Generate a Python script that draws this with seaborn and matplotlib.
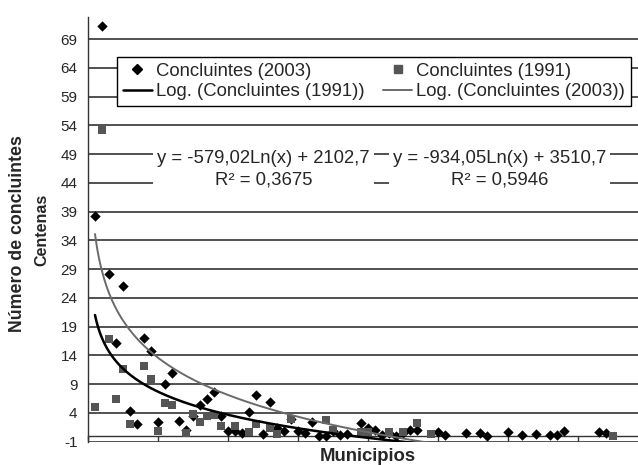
import numpy as np
import pandas as pd
import matplotlib
matplotlib.use("Agg")
import matplotlib.pyplot as plt
import seaborn as sns
from matplotlib.lines import Line2D

nan = np.nan
# municipality index (x) and graduates in hundreds (y)
municipios = list(range(1, 76))
concl_2003 = [38.3, 71.3, 28.2, 16.2, 26.1, 4.3, 2.0, 17.0, 14.8, 2.4,
              9.0, 11.0, 2.6, 1.1, 3.5, 5.4, 6.5, 7.6, 3.4, 0.9,
              0.8, 0.5, 4.1, 7.2, 0.3, 5.9, 1.3, 0.9, 2.9, 0.8,
              0.5, 2.5, 0.0, 0.0, 0.9, 0.2, 0.3, nan, 2.2, 1.3,
              1.0, 0.2, 0.5, 0.05, 0.5, 1.0, 1.0, nan, nan, 0.75,
              0.1, nan, nan, 0.5, nan, 0.5, 0.0, nan, nan, 0.7,
              nan, 0.2, nan, 0.4, nan, 0.2, 0.2, 0.85, nan, nan,
              nan, nan, 0.7, 0.5, nan]
concl_1991 = [5.1, 53.2, 16.8, 6.5, 11.7, 2.1, nan, 12.1, 9.9, 0.8,
              5.8, 5.4, nan, 0.5, 3.8, 2.4, 3.5, 3.6, 1.8, nan,
              1.8, nan, 0.6, 2.1, nan, 1.3, 0.3, nan, 3.0, nan,
              nan, nan, nan, 2.7, 1.0, nan, nan, nan, 0.6, 0.6,
              nan, nan, 0.6, nan, 0.6, nan, 2.2, nan, 0.4, nan,
              nan, nan, nan, nan, nan, nan, nan, nan, nan, nan,
              nan, nan, nan, nan, nan, nan, nan, nan, nan, nan,
              nan, nan, nan, nan, 0.05]
# logarithmic trendlines (units, not hundreds): y = a*ln(x) + b
trend_1991 = [-579.02, 2102.7]
trend_2003 = [-934.05, 3510.7]
r2_1991 = "0,3675"
r2_2003 = "0,5946"
y_ticks = list(range(-1, 70, 5))
x_ticks = list(range(0, 81, 10))

sns.set_theme(style="white")
plt.rcParams["font.family"] = ["Liberation Sans", "DejaVu Sans"]

W, H = 638, 465
fig = plt.figure(figsize=(W / 100, H / 100), dpi=100)
ax_l, ax_r, ax_b, ax_t = 88, 648, 441.7, 16.7
ax = fig.add_axes([ax_l / W, 1 - ax_b / H, (ax_r - ax_l) / W, (ax_b - ax_t) / H])

df = pd.DataFrame({"x": municipios, "c2003": concl_2003, "c1991": concl_1991})

gray_sq = "#555555"
gray_ln = "#6a6a6a"

sns.scatterplot(data=df, x="x", y="c2003", marker="D", s=28, color="black",
                edgecolor="black", linewidth=0, ax=ax, zorder=3)
sns.scatterplot(data=df, x="x", y="c1991", marker="s", s=32, color=gray_sq,
                edgecolor=gray_sq, linewidth=0, ax=ax, zorder=4)

xs = np.linspace(1, max(municipios), 400)
tr = pd.DataFrame({"x": xs,
                   "t1991": (trend_1991[0] * np.log(xs) + trend_1991[1]) / 100,
                   "t2003": (trend_2003[0] * np.log(xs) + trend_2003[1]) / 100})
sns.lineplot(data=tr, x="x", y="t1991", color="black", lw=1.8, ax=ax, zorder=5)
sns.lineplot(data=tr, x="x", y="t2003", color=gray_ln, lw=1.4, ax=ax, zorder=5)

ax.set_xlim(0, 80)
ax.set_ylim(-1, 72.9)
ax.set_yticks(y_ticks)
ax.set_yticklabels([str(v) for v in y_ticks], fontsize=11)
ax.set_xticks(x_ticks)
ax.set_xticklabels([])
ax.set_xlabel("")
ax.set_ylabel("")
ax.yaxis.grid(True, color="#222222", lw=1.1)
ax.xaxis.grid(False)
for s in ["top", "right"]:
    ax.spines[s].set_visible(False)
ax.spines["left"].set_color("#333333")
ax.spines["left"].set_linewidth(1.0)
ax.spines["bottom"].set_position(("data", 0))
ax.spines["bottom"].set_color("#333333")
ax.spines["bottom"].set_linewidth(1.0)
ax.tick_params(axis="y", direction="out", length=4.5, width=1, color="#333333", pad=3)
ax.tick_params(axis="x", direction="out", length=3.6, width=1, color="#333333", bottom=True)

# equation boxes
bbox = dict(facecolor="white", edgecolor="none", pad=3)
ax.text(25.1, 46.3, "y = -579,02Ln(x) + 2102,7\nR² = " + r2_1991,
        ha="center", va="center", multialignment="center", fontsize=13.3,
        linespacing=1.35, bbox=bbox, zorder=6)
ax.text(58.8, 46.3, "y = -934,05Ln(x) + 3510,7\nR² = " + r2_2003,
        ha="center", va="center", multialignment="center", fontsize=13.3,
        linespacing=1.35, bbox=bbox, zorder=6)

handles = [
    Line2D([], [], marker="D", color="black", ls="none", markersize=5),
    Line2D([], [], color="black", lw=1.8),
    Line2D([], [], marker="s", color=gray_sq, ls="none", markersize=5.5),
    Line2D([], [], color=gray_ln, lw=1.4),
]
labels = ["Concluintes (2003)", "Log. (Concluintes (1991))",
          "Concluintes (1991)", "Log. (Concluintes (2003))"]
leg = ax.legend(handles, labels, ncol=2, loc="upper left",
                bbox_to_anchor=(117 / W, 1 - 57 / H), bbox_transform=fig.transFigure,
                frameon=True, fancybox=False, edgecolor="black", framealpha=1,
                fontsize=13.3, borderpad=0.3, labelspacing=0.2, handlelength=1.6,
                handletextpad=0.2, columnspacing=1.0, borderaxespad=0)
leg.get_frame().set_linewidth(1.0)
leg.set_zorder(7)

fig.text(18 / W, 1 - 234 / H, "Número de concluintes", rotation=90, ha="center",
         va="center", fontsize=12.8, fontweight="bold")
fig.text(41.5 / W, 1 - 230 / H, "Centenas", rotation=90, ha="center",
         va="center", fontsize=11.5, fontweight="bold")
fig.text(368 / W, 1 - 456 / H, "Municipios", ha="center", va="center",
         fontsize=13.3, fontweight="bold")

fig.savefig("out.png", dpi=100)
